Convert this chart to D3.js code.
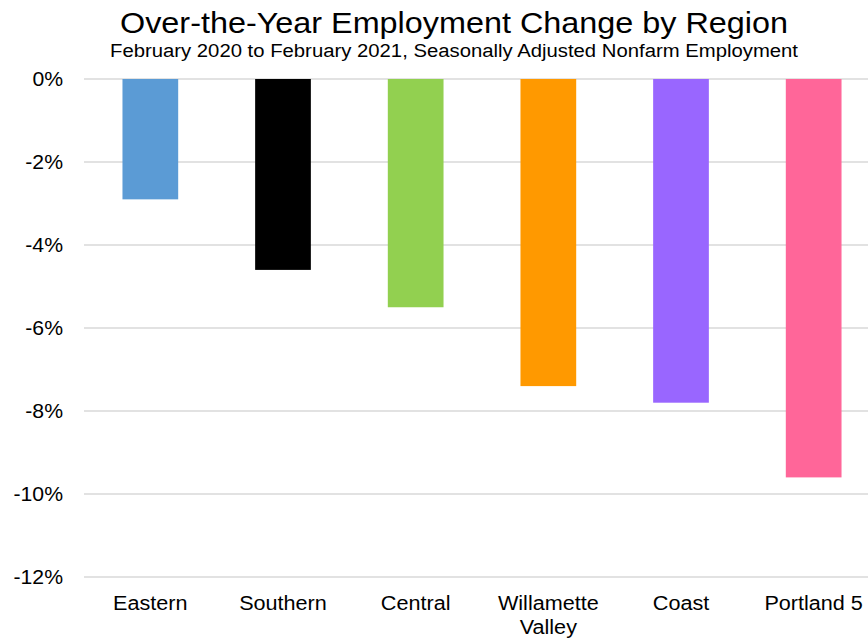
<!DOCTYPE html>
<html>
<head>
<meta charset="utf-8">
<script src="https://cdn.jsdelivr.net/npm/d3@7"></script>
<style>
body { margin: 0; background: #fff; }
svg { display: block; font-family: "Liberation Sans", Arial, sans-serif; }
</style>
</head>
<body>
<svg id="chart" width="868" height="639"></svg>
<script>
const categories = ["Eastern", "Southern", "Central", "Willamette Valley", "Coast", "Portland 5"];
const values = [-2.9, -4.6, -5.5, -7.4, -7.8, -9.6];
const colors = ["#5B9BD5", "#000000", "#92D050", "#FF9900", "#9966FF", "#FF6699"];
const yTicks = [0, -2, -4, -6, -8, -10, -12];
const title = "Over-the-Year Employment Change by Region";
const subtitle = "February 2020 to February 2021, Seasonally Adjusted Nonfarm Employment";

const svg = d3.select("#chart");
const W = 868, H = 639;
const mLeft = 84, mRight = 880, mTop = 79, mBottom = 577;

function stretch(sel, k) {
  sel.each(function() {
    const len = this.getComputedTextLength();
    d3.select(this).attr("textLength", len * k).attr("lengthAdjust", "spacingAndGlyphs");
  });
}

const x = d3.scaleBand().domain(categories).range([mLeft, mRight]).paddingInner(0.58).paddingOuter(0.29);
const y = d3.scaleLinear().domain([0, -12]).range([mTop, mBottom]);

svg.append("text").attr("x", 454).attr("y", 33).attr("text-anchor", "middle")
  .attr("font-size", 29).attr("fill", "#000").text(title)
  .attr("textLength", 668).attr("lengthAdjust", "spacingAndGlyphs");
svg.append("text").attr("x", 454).attr("y", 57).attr("text-anchor", "middle")
  .attr("font-size", 18).attr("fill", "#000").text(subtitle)
  .attr("textLength", 688).attr("lengthAdjust", "spacingAndGlyphs");

// gridlines
svg.append("g").selectAll("line").data(yTicks).join("line")
  .attr("x1", mLeft).attr("x2", W)
  .attr("y1", d => y(d)).attr("y2", d => y(d))
  .attr("stroke", "#d9d9d9").attr("stroke-width", 1.5);

// y axis labels
const yAxis = d3.axisLeft(y).tickValues(yTicks).tickSize(0).tickPadding(0).tickFormat(d => d + "%");
const ga = svg.append("g").attr("transform", `translate(63,0)`).call(yAxis);
ga.select(".domain").remove();
const yt = ga.selectAll("text").attr("font-size", 20).attr("fill", "#000")
  .attr("font-family", "Liberation Sans, Arial, sans-serif");
stretch(yt, 1.06);

// bars
svg.append("g").selectAll("rect").data(categories).join("rect")
  .attr("x", d => x(d))
  .attr("width", x.bandwidth())
  .attr("y", y(0))
  .attr("height", (d, i) => y(values[i]) - y(0))
  .attr("fill", (d, i) => colors[i]);

// x labels
const xg = svg.append("g");
categories.forEach(d => {
  const cx = x(d) + x.bandwidth() / 2;
  const lines = d === "Willamette Valley" ? ["Willamette", "Valley"] : [d];
  lines.forEach((line, j) => {
    const t = xg.append("text")
      .attr("x", cx).attr("y", 610 + j * 24)
      .attr("text-anchor", "middle")
      .attr("font-size", 20)
      .attr("fill", "#000")
      .text(line);
    stretch(t, 1.08);
  });
});
</script>
</body>
</html>
